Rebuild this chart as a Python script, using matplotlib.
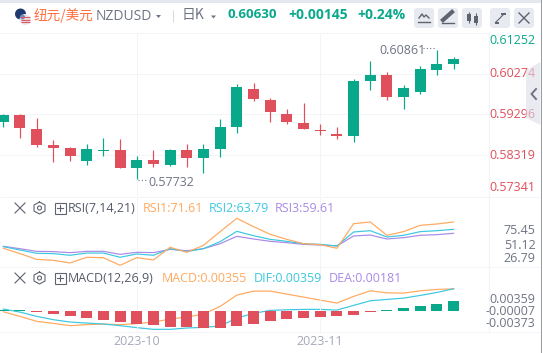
import matplotlib
matplotlib.use('Agg')
import matplotlib.pyplot as plt
from matplotlib.patches import Circle, FancyBboxPatch, Polygon, Rectangle

plt.rcParams['font.family'] = ['Open Sans', 'DejaVu Sans']

GREEN = '#0aa88b'
RED = '#e04f5c'
ORANGE = '#ffa95e'
CYAN = '#3cc8e0'
PURPLE = '#a98be8'
GRID = '#f3f4f8'
TEXT = '#6f7485'
FS = 9.0

opens = [.59124, .59287, .58947, .58565, .58492, .58176, .58424, .58443, .58007, .58201,
         .58079, .58443, .58249, .58464, .58992, .59913, .59646, .59311, .59093, .58925,
         .58826, .58774, .60102, .60248, .59714, .59835, .60369, .60515]
closes = [.59287, .58978, .58559, .58492, .58298, .58467, .58443, .58007, .58201, .58104,
          .58443, .58249, .58467, .58999, .59962, .59670, .59355, .59117, .58947, .58903,
          .58777, .60109, .60248, .59714, .59932, .60393, .60515, .60630]
highs = [.59311, .59311, .59214, .58686, .58516, .58589, .58735, .58710, .58298, .58443,
         .58467, .58589, .58589, .59193, .60035, .60058, .59694, .59432, .59578, .59068,
         .58996, .60158, .60587, .60320, .60005, .60466, .60861, .60684]
lows = [.59003, .58736, .58517, .58159, .58184, .58079, .58298, .58007, .57732, .58031,
        .58055, .58031, .57885, .58271, .58846, .59622, .59112, .59068, .58947, .58801,
        .58704, .58628, .59884, .59641, .59422, .59786, .60248, .60393]

rsi1 = [43.7, 38.1, 32.0, 31.0, 28.2, 34.2, 33.8, 25.7, 33.8, 31.3, 44.8, 39.5, 46.9, 61.4,
        75.5, 66.7, 58.5, 53.2, 48.6, 47.6, 43.7, 69.8, 71.6, 57.5, 61.4, 68.1, 69.5, 71.61]
rsi2 = [45.5, 41.9, 38.4, 38.1, 36.3, 38.7, 38.7, 34.2, 37.7, 36.3, 43.3, 40.2, 43.3, 50.8,
        61.7, 57.1, 53.2, 51.1, 48.6, 47.9, 46.2, 61.0, 62.4, 55.7, 57.5, 61.4, 62.4, 63.79]
rsi3 = [45.8, 43.3, 40.5, 40.2, 39.1, 40.5, 40.5, 37.3, 39.5, 39.1, 42.6, 41.2, 43.3, 48.6,
        56.4, 53.6, 51.1, 49.7, 47.9, 47.2, 46.2, 56.8, 57.8, 53.6, 55.0, 57.5, 58.2, 59.61]

macd_hist = [.00035, .00035, -.00035, -.00106, -.00177, -.00248, -.00319, -.00390, -.00461, -.00497,
             -.00568, -.00568, -.00603, -.00603, -.00532, -.00461, -.00355, -.00284, -.00248, -.00213,
             -.00177, -.00142, -.00035, .00024, .00106, .00177, .00248, .00355]
macd_orange = [-.00010, -.00084, -.00164, -.00196, -.00233, -.00217, -.00207, -.00217, -.00201, -.00175,
               -.00127, -.00095, -.00047, .00076, .00257, .00321, .00321, .00273, .00225, .00177,
               .00129, .00236, .00326, .00294, .00289, .00326, .00348, .00358]
dif = [.00033, -.00015, -.00084, -.00137, -.00175, -.00191, -.00207, -.00233, -.00265, -.00292,
       -.00292, -.00271, -.00260, -.00239, -.00111, -.00036, .00012, .00022, .00028, .00028,
       .00017, .00092, .00166, .00188, .00209, .00252, .00300, .00359]

price_ticks = [.61252, .60274, .59296, .58319, .57341]
date_ticks = [8, 19]
date_labels = ['2023-10', '2023-11']

W, H = 543, 353
PX = 0.72
fig = plt.figure(figsize=(W / 100, H / 100), dpi=100, facecolor='white')


def panel(top, bottom):
    ax = fig.add_axes([0, 1 - bottom / H, 488.7 / W, (bottom - top) / H])
    ax.set_facecolor('none')
    for s in ax.spines.values():
        s.set_visible(False)
    ax.spines['right'].set_visible(True)
    ax.spines['right'].set_color(GRID)
    ax.set_xlim(-0.198, 29.1)
    ax.set_xticks(date_ticks)
    ax.set_xticklabels([])
    ax.set_yticks([])
    ax.tick_params(length=0)
    ax.grid(axis='x', color=GRID, lw=1 * PX)
    ax.set_axisbelow(True)
    return ax


def side_label(ax, val, txt, color, dy=0):
    ax.annotate(txt, xy=(1, val), xycoords=('axes fraction', 'data'),
                xytext=(46.8 * PX, dy * PX), textcoords='offset points',
                ha='right', va='center', fontsize=FS, color=color)


# price panel
ax = panel(33.3, 195.6)
ax.set_ylim(price_ticks[-1], price_ticks[0])
ax.set_yticks(price_ticks)
ax.set_yticklabels([])
ax.grid(axis='y', color=GRID, lw=1 * PX)
xs = list(range(len(opens)))
colors = [GREEN if c >= o else RED for o, c in zip(opens, closes)]
ax.vlines(xs, lows, highs, colors=colors, lw=1.2 * PX)
ax.bar(xs, [abs(c - o) for o, c in zip(opens, closes)],
       bottom=[min(o, c) for o, c in zip(opens, closes)],
       width=0.66, color=colors, lw=0)
side_label(ax, price_ticks[0], '0.61252', GREEN, -7.5)
side_label(ax, price_ticks[1], '0.60274', RED, 0)
side_label(ax, price_ticks[2], '0.59296', RED, 0)
side_label(ax, price_ticks[3], '0.58319', RED, 0)
side_label(ax, price_ticks[4], '0.57341', RED, 8.5)

# RSI panel
ax2 = panel(197, 267)
ax2.set_ylim(23.9, 98.1)
ax2.plot(xs, rsi3, color=PURPLE, lw=1.2 * PX)
ax2.plot(xs, rsi2, color=CYAN, lw=1.2 * PX)
ax2.plot(xs, rsi1, color=ORANGE, lw=1.2 * PX)
side_label(ax2, 63.1, '75.45', TEXT)
side_label(ax2, 47.2, '51.12', TEXT)
side_label(ax2, 33.1, '26.79', TEXT)

# MACD panel, the bars and the lines sit on their own scales
ax3 = panel(267.5, 331.7)
ax3.set_ylim(-.00736, .01544)
ax3.bar(xs, macd_hist, width=0.66, color=[GREEN if v > 0 else RED for v in macd_hist], lw=0)
side_label(ax3, .0039, '0.00359', TEXT)
side_label(ax3, -.00036, '-0.00007', TEXT)
side_label(ax3, -.0045, '-0.00373', TEXT)
ax4 = ax3.twinx()
ax4.set_facecolor('none')
for s in ax4.spines.values():
    s.set_visible(False)
ax4.set_ylim(-.0033, .0070)
ax4.set_yticks([])
ax4.plot(xs, macd_orange, color=ORANGE, lw=1.2 * PX)
ax4.plot(xs, dif, color=CYAN, lw=1.2 * PX)
# bars go over the lines
ax3.set_zorder(ax4.get_zorder() + 1)
ax3.set_xticks(date_ticks)
ax3.set_xticklabels(date_labels, fontsize=FS, color='#a5a9b8')
ax3.tick_params(axis='x', pad=2.5)

# overlay in pixel coordinates for the header and the chrome
ov = fig.add_axes([0, 0, 1, 1])
ov.set_zorder(10)
ov.set_xlim(0, W)
ov.set_ylim(H, 0)
ov.axis('off')
ov.patch.set_alpha(0)

ov.add_patch(Rectangle((0, 0), W, 2.5, color='#e4e7ee', lw=0))
ov.add_patch(Rectangle((540.5, 0), 1.5, H, color='#9a9ca3', lw=0))
ov.add_patch(Rectangle((542, 0), 1, H, color='white', lw=0))
ov.hlines([33.3], 0, 488.7, color=GRID, lw=1 * PX)
ov.hlines([196.5, 267.3, 331.7], 0, 540, color=GRID, lw=1 * PX)

# flags
ov.add_patch(Circle((20.5, 14), 5.5, color='#1f3a6e', lw=0))
ov.add_patch(Circle((25, 19.5), 5.5, color='#e8e8ee', lw=0))
ov.hlines([17, 19.5, 22], 20.5, 30, color='#e05a66', lw=1.2 * PX)
ov.add_patch(Circle((22.5, 17), 2.5, color='#7a86b0', lw=0))

ov.text(34, 15.5, '纽元/美元', fontsize=9.8, color='#ff6f3f', va='center',
        family=['Noto Sans CJK SC', 'DejaVu Sans'])
ov.text(96, 16.5, 'NZDUSD', fontsize=10, color=TEXT, va='center')
ov.add_patch(Polygon([[156, 15], [161, 15], [158.5, 18]], color=TEXT, lw=0))
ov.vlines(172.5, 10, 22, color='#d5d8e0', lw=1 * PX)
ov.text(182, 15, '日K', fontsize=10, color=TEXT, va='center',
        family=['Noto Sans CJK SC', 'DejaVu Sans'])
ov.add_patch(Polygon([[211, 15.5], [216, 15.5], [213.5, 18.5]], color=TEXT, lw=0))
ov.text(227, 15, '0.60630', fontsize=9.6, weight='bold', color=GREEN, va='center')
ov.text(288, 15, '+0.00145', fontsize=10, weight='bold', color=GREEN, va='center')
ov.text(357, 15, '+0.24%', fontsize=10, weight='bold', color=GREEN, va='center')

# header buttons
for bx in [414, 438, 462, 490, 514]:
    ov.add_patch(FancyBboxPatch((bx + 2, 10), 16, 16, boxstyle='round,pad=2,rounding_size=3',
                                fc='#e8eaf1', ec='none'))
ic = '#5f6370'
ov.plot([419, 422, 424, 426, 429], [18, 14, 17, 15, 18], color=ic, lw=1)
ov.plot([418, 430], [22, 22], color=ic, lw=1)
ov.plot([443, 452], [20, 12], color=ic, lw=3)
ov.plot([442, 454], [23, 23], color=ic, lw=1)
ov.add_patch(Rectangle((467, 14), 4, 7, color=ic, lw=0))
ov.add_patch(Rectangle((474, 15.5), 4, 7, color=ic, lw=0))
ov.vlines([469, 476], [12, 13], [23, 25], color=ic, lw=0.8)
ov.plot([495.5, 504.5], [22.5, 13.5], color=ic, lw=0.8)
ov.plot([495.5, 498], [22.5, 22.5], color=ic, lw=1.4)
ov.plot([502, 504.5], [13.5, 13.5], color=ic, lw=1.4)
ov.plot([519, 529], [13, 23], color=ic, lw=1)
ov.plot([519, 529], [23, 13], color=ic, lw=1)

# extreme labels
ov.text(379, 50, '0.60861', fontsize=FS, color=TEXT, va='center')
ov.plot([423, 436], [48, 48], color=TEXT, lw=0.8, ls=(0, (1, 2)))
ov.text(148, 182.5, '0.57732', fontsize=FS, color=TEXT, va='center')
ov.plot([138, 147], [180, 180], color=TEXT, lw=0.8, ls=(0, (1, 2)))


def legend_icons(y):
    ov.plot([15, 25], [y - 5, y + 5], color=ic, lw=0.8)
    ov.plot([15, 25], [y - 5 + 10, y + 5 - 10], color=ic, lw=0.8)
    ov.plot([39.5, 45, 45, 39.5, 34, 34, 39.5], [y - 6, y - 3, y + 3, y + 6, y + 3, y - 3, y - 6],
            color=ic, lw=0.8)
    ov.add_patch(Circle((39.5, y), 2, fc='none', ec=ic, lw=0.8))
    ov.add_patch(Rectangle((54.5, y - 5.5), 11, 11, fc='none', ec=ic, lw=0.8))
    ov.plot([57, 63], [y, y], color=ic, lw=0.8)
    ov.plot([60, 60], [y - 3, y + 3], color=ic, lw=0.8)


legend_icons(208)
ov.text(68, 208, 'RSI(7,14,21)', fontsize=FS, color='#555a6a', va='center')
ov.text(143, 208, 'RSI1:71.61', fontsize=FS, color=ORANGE, va='center')
ov.text(209, 208, 'RSI2:63.79', fontsize=FS, color=CYAN, va='center')
ov.text(275, 208, 'RSI3:59.61', fontsize=FS, color=PURPLE, va='center')
legend_icons(278)
ov.text(68, 278, 'MACD(12,26,9)', fontsize=FS, color='#555a6a', va='center')
ov.text(162, 278, 'MACD:0.00355', fontsize=FS, color=ORANGE, va='center')
ov.text(254, 278, 'DIF:0.00359', fontsize=FS, color=CYAN, va='center')
ov.text(329, 278, 'DEA:0.00181', fontsize=FS, color=PURPLE, va='center')

# collapse handle on the right
ov.add_patch(Polygon([[540.5, 62], [526, 70], [526, 118], [540.5, 125]],
                     fc='#dcdce8', ec='none', alpha=0.6))
ov.plot([536, 531.5, 536], [89, 94, 99], color=TEXT, lw=1.4)

fig.savefig('out.png', dpi=100, facecolor='white')
